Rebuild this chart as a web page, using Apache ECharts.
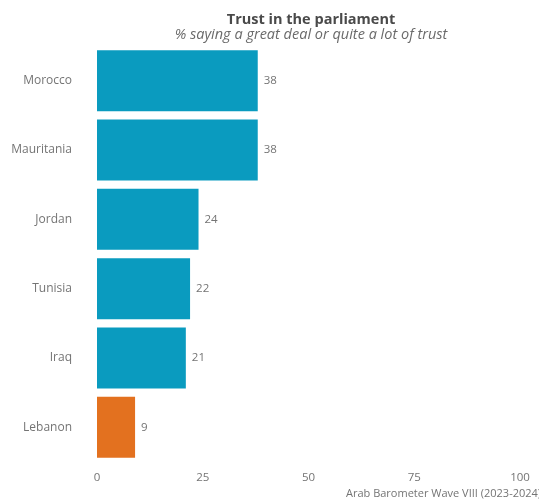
<!DOCTYPE html>
<html>
<head>
<meta charset="utf-8">
<script src="https://cdn.jsdelivr.net/npm/echarts@6/dist/echarts.min.js"></script>
<style>
  html, body { margin: 0; padding: 0; background: #ffffff; }
  #chart { width: 539px; height: 504px; }
</style>
</head>
<body>
<div id="chart"></div>
<script>
// Share trusting parliament, by country
const countries = ['Morocco', 'Mauritania', 'Jordan', 'Tunisia', 'Iraq', 'Lebanon'];
const trustValues = [38, 38, 24, 22, 21, 9];
const highlighted = ['Lebanon'];
const xTicks = [0, 25, 50, 75, 100];

const BLUE = '#0a9bbf';
const ORANGE = '#e3711f';
const FONT = '"Open Sans", "Noto Sans", sans-serif';

const chart = echarts.init(document.getElementById('chart'), null, { renderer: 'canvas' });

chart.setOption({
  animation: false,
  backgroundColor: '#ffffff',
  title: {
    text: 'Trust in the parliament',
    subtext: '% saying a great deal or quite a lot of trust',
    left: 306,
    textAlign: 'center',
    top: 7,
    itemGap: 0,
    textStyle: { fontFamily: FONT, fontSize: 14.5, fontWeight: 'bold', color: '#4a4a4a' },
    subtextStyle: { fontFamily: FONT, fontSize: 14.5, fontStyle: 'italic', color: '#6a6a6a' }
  },
  grid: { left: 97, right: 19, top: 46, bottom: 42, containLabel: false },
  xAxis: {
    type: 'value',
    min: 0,
    max: 100,
    interval: 25,
    axisLine: { show: false },
    axisTick: { show: false },
    splitLine: { show: false },
    axisLabel: {
      color: '#747474',
      fontFamily: FONT,
      fontSize: 11.5,
      margin: 10,
      formatter: v => (xTicks.includes(v) ? String(v) : '')
    }
  },
  yAxis: {
    type: 'category',
    data: countries,
    inverse: true,
    axisLine: { show: false },
    axisTick: { show: false },
    axisLabel: { color: '#747474', fontFamily: FONT, fontSize: 12, margin: 25 }
  },
  series: [{
    type: 'bar',
    barCategoryGap: '12%',
    data: countries.map((c, i) => ({
      value: trustValues[i],
      itemStyle: { color: highlighted.includes(c) ? ORANGE : BLUE }
    })),
    label: {
      show: true,
      position: 'right',
      distance: 6,
      color: '#747474',
      fontFamily: FONT,
      fontSize: 11.5
    }
  }],
  graphic: [{
    type: 'text',
    left: 346,
    top: 488,
    style: {
      text: 'Arab Barometer Wave VIII (2023-2024)',
      fill: '#747474',
      font: '11px ' + FONT
    }
  }]
});
</script>
</body>
</html>
